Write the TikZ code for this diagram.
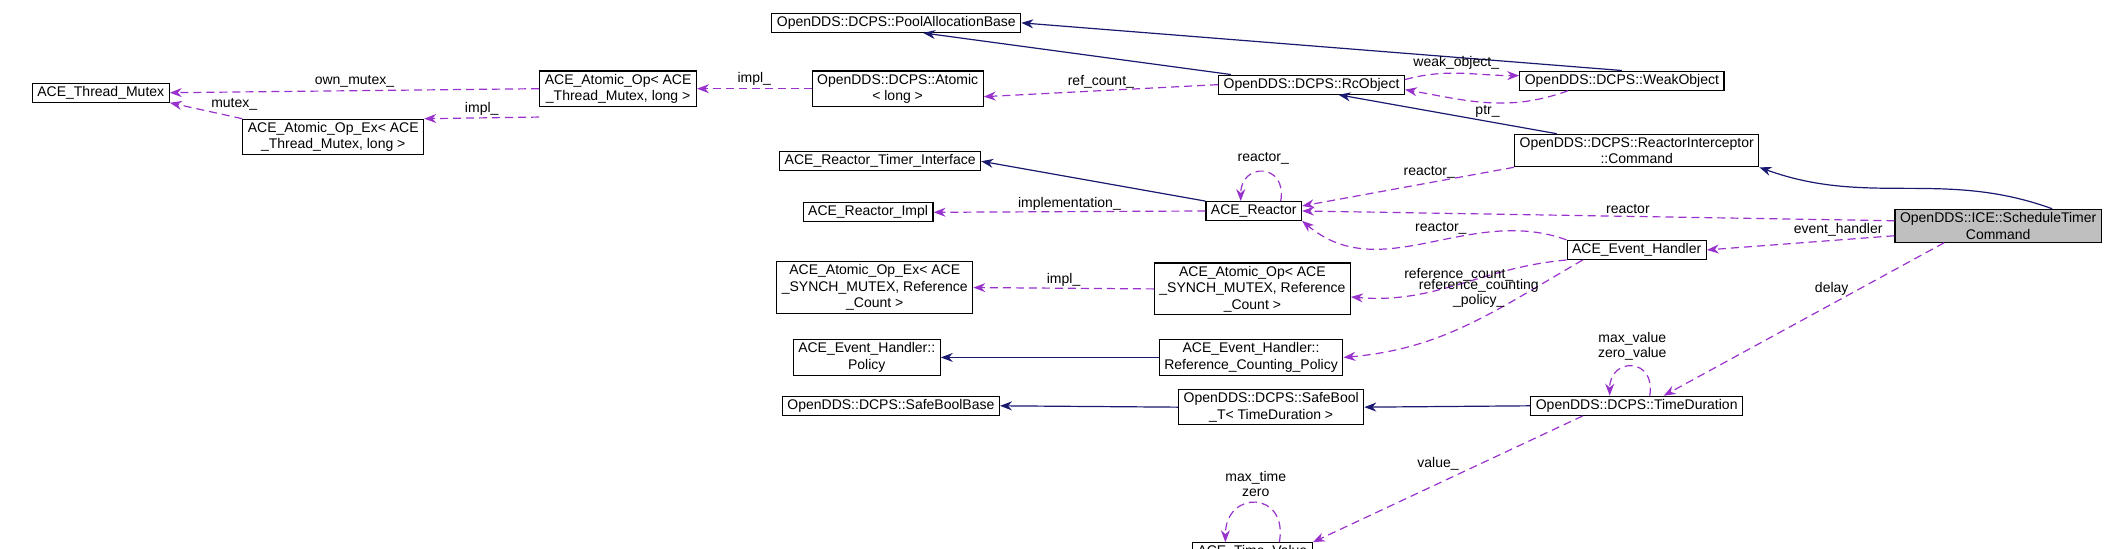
\documentclass[tikz,border=0pt]{standalone}
\usepackage{fontspec}
\setmainfont{Liberation Sans}
\usetikzlibrary{arrows.meta}
\begin{document}
\begin{tikzpicture}[x=1.344pt,y=-1.344pt,
  box/.style={draw=black,fill=white,line width=1.2pt,inner xsep=5pt,inner ysep=3pt,align=center,font=\fontsize{14}{16.5}\selectfont},
  cur/.style={box,fill=black!25},
  inh/.style={draw={rgb,255:red,25;green,25;blue,112},line width=1.2pt,-{Stealth[length=12pt,width=9pt]}},
  use/.style={draw={rgb,255:red,153;green,50;blue,204},line width=1.2pt,dash pattern=on 8pt off 5pt,-{Stealth[length=12pt,width=9pt]}},
  lab/.style={font=\fontsize{14}{15}\selectfont,align=center,inner sep=1pt}]
\useasboundingbox (0,0) rectangle (1568,408);
% nodes
\node[box] (pab) at (667,17) {OpenDDS::DCPS::PoolAllocationBase};
\node[box] (weak) at (1207,60) {OpenDDS::DCPS::WeakObject};
\node[box] (atomic) at (668,66) {OpenDDS::DCPS::Atomic\\< long >};
\node[box] (rc) at (976,63) {OpenDDS::DCPS::RcObject};
\node[box] (aotm) at (460,66) {ACE\_Atomic\_Op< ACE\\\_Thread\_Mutex, long >};
\node[box] (aoetm) at (248,102) {ACE\_Atomic\_Op\_Ex< ACE\\\_Thread\_Mutex, long >};
\node[box] (tm) at (75,69) {ACE\_Thread\_Mutex};
\node[box] (cmd) at (1218,112) {OpenDDS::DCPS::ReactorInterceptor\\::Command};
\node[box] (rti) at (655,120) {ACE\_Reactor\_Timer\_Interface};
\node[box] (reactor) at (933,157) {ACE\_Reactor};
\node[box] (rimpl) at (646,158) {ACE\_Reactor\_Impl};
\node[cur] (stc) at (1487,168) {OpenDDS::ICE::ScheduleTimer\\Command};
\node[box] (aoes) at (651,214) {ACE\_Atomic\_Op\_Ex< ACE\\\_SYNCH\_MUTEX, Reference\\\_Count >};
\node[box] (aos) at (932,215) {ACE\_Atomic\_Op< ACE\\\_SYNCH\_MUTEX, Reference\\\_Count >};
\node[box] (eh) at (1218,186) {ACE\_Event\_Handler};
\node[box] (pol) at (645,266) {ACE\_Event\_Handler::\\Policy};
\node[box] (rcp) at (931,266) {ACE\_Event\_Handler::\\Reference\_Counting\_Policy};
\node[box] (sbb) at (663,302) {OpenDDS::DCPS::SafeBoolBase};
\node[box] (sbt) at (946,303) {OpenDDS::DCPS::SafeBool\\\_T< TimeDuration >};
\node[box] (td) at (1218,302) {OpenDDS::DCPS::TimeDuration};
\node[box] (tv) at (932,411) {ACE\_Time\_Value};
% inheritance
\draw[inh] ([xshift=13pt]rc.north west) -- ([xshift=27pt]pab.south);
\draw[inh] (weak.north) -- (pab.east);
\draw[inh] ([xshift=-80pt]cmd.north) -- ([xshift=27pt]rc.south);
\draw[inh] ([xshift=54pt]stc.north) to[out=160,in=-20] (cmd.south east);
\draw[inh] (reactor.north west) -- (rti.east);
\draw[inh] (rcp.west) -- (pol.east);
\draw[inh] (sbt.west) -- (sbb.east);
\draw[inh] (td.west) -- (sbt.east);
% usage
\draw[use] (aotm.west) -- node[lab,above=2pt] {own\_mutex\_} (tm.east);
\draw[use] (aoetm.north west) -- node[lab,pos=0.45,above right=0pt] {mutex\_} (tm.south east);
\draw[use] ([yshift=-10pt]aotm.south west) -- node[lab,above=1pt] {impl\_} (aoetm.north east);
\draw[use] (atomic.west) -- node[lab,above=2pt] {impl\_} (aotm.east);
\draw[use] (rc.west) -- node[lab,above=1pt] {ref\_count\_} ([yshift=-8pt]atomic.east);
\draw[use] ([yshift=-5pt]rc.north east) to[out=15,in=180] node[lab,pos=0.45,above=2pt] {weak\_object\_} ([yshift=5pt]weak.west);
\draw[use] ([xshift=-54pt]weak.south) to[out=-160,in=-10] node[lab,pos=0.5,below=1pt] {ptr\_} ([yshift=-5pt]rc.east);
\draw[use] ([xshift=27pt]reactor.north) to[out=80,in=90,looseness=2.5] node[lab,pos=0.5,above=6pt] {reactor\_} ([xshift=-13pt]reactor.north);
\draw[use] (cmd.south west) -- node[lab,pos=0.4,above=3pt] {reactor\_} ([yshift=5pt]reactor.east);
\draw[use] (reactor.west) -- node[lab,above=0pt] {implementation\_} (rimpl.east);
\draw[use] ([yshift=5pt]stc.west) -- node[lab,pos=0.45,above=1pt] {reactor} (reactor.east);
\draw[use] (eh.north west) to[out=160,in=-40] node[lab,pos=0.45,above=4pt] {reactor\_} (reactor.south east);
\draw[use] ([yshift=-10pt]stc.west) -- node[lab,pos=0.3,above=2pt] {event\_handler} (eh.east);
\draw[use] (aos.west) -- node[lab,above=0pt] {impl\_} (aoes.east);
\draw[use] (eh.south west) to[out=185,in=-5] node[lab,pos=0.5,above=1pt] {reference\_count\_} ([yshift=-8pt]aos.east);
\draw[use] ([xshift=-54pt]eh.south) to[out=-150,in=5] node[lab,pos=0.45,above=10pt] {reference\_counting\\\_policy\_} (rcp.east);
\draw[use] ([xshift=-54pt]stc.south) -- node[lab,pos=0.3,left=10pt] {delay} ([xshift=27pt]td.north);
\draw[use] ([xshift=13pt]td.north) to[out=80,in=90,looseness=2.5] node[lab,pos=0.5,above=5pt] {max\_value\\zero\_value} ([xshift=-27pt]td.north);
\draw[use] ([xshift=-54pt]td.south) -- node[lab,pos=0.45,above left=1pt] {value\_} (tv.north east);
\draw[use] ([xshift=27pt]tv.north) to[out=80,in=90,looseness=2.5] node[lab,pos=0.5,above=5pt] {max\_time\\zero} ([xshift=-27pt]tv.north);
\end{tikzpicture}
\end{document}
